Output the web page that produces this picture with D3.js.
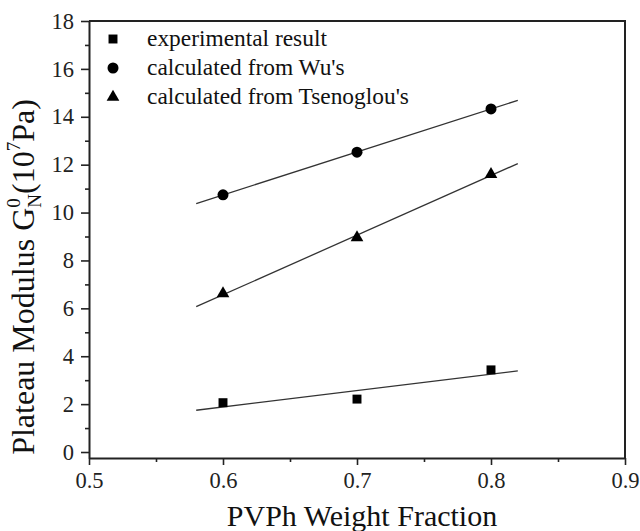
<!DOCTYPE html>
<html>
<head>
<meta charset="utf-8">
<script src="https://cdn.jsdelivr.net/npm/d3@7"></script>
<style>
  body { margin: 0; background: #fff; }
  svg { font-family: "Liberation Serif", "Times New Roman", serif; }
</style>
</head>
<body>
<div class="visHolder"></div>
<script>
// PVPh weight fraction
const fractions = [0.6, 0.7, 0.8];
// plateau modulus, 10^7 Pa
const experimental = [2.06, 2.21, 3.43];
const fromWu = [10.74, 12.52, 14.33];
const fromTsenoglou = [6.62, 8.95, 11.6];
const seriesNames = ['experimental result', "calculated from Wu's", "calculated from Tsenoglou's"];
const fitRange = [0.58, 0.82];
const xTicks = [0.5, 0.6, 0.7, 0.8, 0.9];
const yTicks = [0, 2, 4, 6, 8, 10, 12, 14, 16, 18];

const width = 640,
    height = 531,
    plotLeft = 89, plotRight = 625, plotTop = 21, plotBottom = 458;

const svg = d3.select('.visHolder')
    .append('svg')
    .attr('width', width)
    .attr('height', height);

const xScale = d3.scaleLinear().domain([0.5, 0.9]).range([plotLeft, plotRight]);
const yScale = d3.scaleLinear().domain([-0.25, 18]).range([plotBottom, plotTop]);

// minor ticks first so the major ones draw on top
svg.append('g')
    .attr('transform', `translate(0,${plotBottom})`)
    .call(d3.axisBottom(xScale).tickValues([0.55, 0.65, 0.75, 0.85]).tickSize(4).tickFormat(''))
    .call(g => g.select('.domain').remove());
svg.append('g')
    .attr('transform', `translate(${plotLeft},0)`)
    .call(d3.axisLeft(yScale).tickValues([1, 3, 5, 7, 9, 11, 13, 15, 17]).tickSize(4).tickFormat(''))
    .call(g => g.select('.domain').remove());

const xAxis = svg.append('g')
    .attr('id', 'x-axis')
    .attr('transform', `translate(0,${plotBottom})`)
    .call(d3.axisBottom(xScale).tickValues(xTicks).tickSize(7).tickSizeOuter(0).tickFormat(d3.format('.1f')));
xAxis.selectAll('text').attr('dy', null).attr('y', 30);

const yAxis = svg.append('g')
    .attr('id', 'y-axis')
    .attr('transform', `translate(${plotLeft},0)`)
    .call(d3.axisLeft(yScale).tickValues(yTicks).tickSize(8).tickSizeOuter(0).tickPadding(7));

svg.selectAll('.tick line').attr('stroke', '#222').attr('stroke-width', 1.6);
svg.selectAll('.tick text').attr('font-size', 22.5).attr('fill', '#222');
svg.selectAll('g').attr('font-family', null).attr('font-size', null);
svg.selectAll('.domain').attr('stroke', '#222').attr('stroke-width', 2);

// frame top / right
svg.append('path')
    .attr('d', `M${plotLeft},${plotTop}H${plotRight}V${plotBottom}`)
    .attr('fill', 'none')
    .attr('stroke', '#222')
    .attr('stroke-width', 2);

// linear fits
function fit(ys) {
    const mx = d3.mean(fractions), my = d3.mean(ys);
    const slope = d3.sum(fractions, (x, i) => (x - mx) * (ys[i] - my)) / d3.sum(fractions, x => (x - mx) ** 2);
    return fitRange.map(x => [x, my + slope * (x - mx)]);
}

const line = d3.line().x(d => xScale(d[0])).y(d => yScale(d[1]));
const series = [
    { values: experimental, symbol: d3.symbolSquare, size: 80 },
    { values: fromWu, symbol: d3.symbolCircle, size: 95 },
    { values: fromTsenoglou, symbol: d3.symbolTriangle, size: 70 }
];

series.forEach(s => {
    svg.append('path')
        .attr('d', line(fit(s.values)))
        .attr('fill', 'none')
        .attr('stroke', '#333')
        .attr('stroke-width', 1.3);
    svg.append('g')
        .selectAll('path')
        .data(s.values)
        .enter()
        .append('path')
        .attr('d', d3.symbol(s.symbol, s.size))
        .attr('transform', (d, i) => `translate(${xScale(fractions[i])},${yScale(d)})`)
        .attr('fill', '#000');
});

// legend
const legend = svg.append('g').attr('transform', 'translate(113,39)');
seriesNames.forEach((name, i) => {
    const row = legend.append('g').attr('transform', `translate(0,${i * 29})`);
    row.append('path')
        .attr('d', d3.symbol(series[i].symbol, series[i].size))
        .attr('fill', '#000');
    row.append('text')
        .attr('x', 34)
        .attr('y', 6.5)
        .attr('font-size', 23.4)
        .attr('fill', '#111')
        .text(name);
});

// axis titles
svg.append('text')
    .attr('x', 362)
    .attr('y', 526)
    .attr('text-anchor', 'middle')
    .attr('font-size', 30)
    .attr('fill', '#111')
    .text('PVPh Weight Fraction');

const yTitle = svg.append('text')
    .attr('transform', 'translate(34,277) rotate(-90)')
    .attr('text-anchor', 'middle')
    .attr('font-size', 32)
    .attr('fill', '#111');
yTitle.append('tspan').text('Plateau Modulus G');
yTitle.append('tspan').attr('font-size', 19).attr('dy', -14).text('0');
yTitle.append('tspan').attr('font-size', 19).attr('dx', -9.5).attr('dy', 21).text('N');
yTitle.append('tspan').attr('dy', -7).text('(10');
yTitle.append('tspan').attr('font-size', 19).attr('dy', -14).text('7');
yTitle.append('tspan').attr('dy', 14).text('Pa)');
</script>
</body>
</html>
